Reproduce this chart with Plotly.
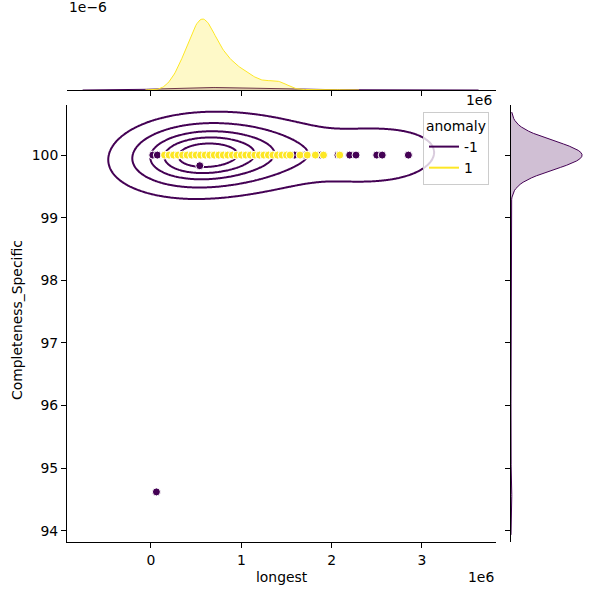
import numpy as np
import plotly.graph_objects as go

# ---------------- data ----------------
# anomaly = 1 : 'longest' values (in units of 1e6) and how many rows share each value;
# every one of these rows has Completeness_Specific = 100
yel_longest_m = [0.15, 0.20, 0.25, 0.30, 0.35, 0.40, 0.45, 0.50, 0.55, 0.60,
                 0.65, 0.70, 0.75, 0.80, 0.85, 0.90, 0.95, 1.00, 1.05, 1.10,
                 1.15, 1.20, 1.25, 1.30, 1.35, 1.40, 1.45, 1.50, 1.54, 1.65,
                 1.73, 1.82, 1.91, 2.09]
yel_count = [3, 8, 18, 30, 45, 62, 80, 98, 110, 108,
             95, 78, 64, 54, 47, 40, 34, 30, 27, 22,
             17, 14, 12, 12, 14, 15, 12, 7, 4, 1,
             1, 1, 1, 1]
yel_completeness = 100.0

# anomaly = -1 : 'longest' (1e6), Completeness_Specific, row count
pur_longest_m = [0.02, 0.07, 0.19, 0.30, 0.40, 0.50, 0.60, 0.70, 0.80, 0.90,
                 1.00, 1.10, 1.20, 1.30, 1.40, 1.59, 1.70, 1.88, 2.07, 2.20,
                 2.27, 2.50, 2.56, 2.85, 0.54, 0.06]
pur_completeness = [100, 100, 100, 100, 100, 100, 100, 100, 100, 100,
                    100, 100, 100, 100, 100, 100, 100, 100, 100, 100,
                    100, 100, 100, 100, 99.83, 94.62]
pur_count = [2, 2, 4, 6, 8, 9, 9, 8, 7, 6,
             5, 4, 3, 2, 2, 2, 1, 1, 1, 1,
             1, 2, 1, 2, 1, 1]

x_ticks = [0, 1, 2, 3]
y_ticks = [94, 95, 96, 97, 98, 99, 100]

PUR = "#440154"
YEL = "#fde725"
PUR_FILL = "rgba(68,1,84,0.25)"
YEL_FILL = "rgba(253,231,37,0.25)"
FONT = "DejaVu Sans"
FS = 13.9

# ---------------- KDE helpers ----------------
def kde1d(samples, cut=3, gridsize=200):
    s = np.asarray(samples, float)
    n = s.size
    bw = s.std(ddof=1) * n ** (-0.2)
    g = np.linspace(s.min() - cut * bw, s.max() + cut * bw, gridsize)
    d = np.exp(-0.5 * ((g[:, None] - s[None, :]) / bw) ** 2).sum(1) / (n * bw * np.sqrt(2 * np.pi))
    return g, d

yx = np.repeat(yel_longest_m, yel_count)
px_ = np.repeat(pur_longest_m, pur_count)
py_ = np.repeat(pur_completeness, pur_count).astype(float)
n_y, n_p = yx.size, px_.size
frac_y = n_y / (n_y + n_p)
frac_p = n_p / (n_y + n_p)

gyx, dyx = kde1d(yx)
gpx, dpx = kde1d(px_)
gpy, dpy = kde1d(py_)
dyx *= frac_y / 1e6
dpx *= frac_p / 1e6
dpy *= frac_p

# 2-D KDE for anomaly = -1
data = np.vstack([px_, py_])
cov = np.cov(data)
fac = n_p ** (-1.0 / 6)
kc = cov * fac ** 2
inv = np.linalg.inv(kc)
norm = 1.0 / (2 * np.pi * np.sqrt(np.linalg.det(kc)))
bwx, bwy = np.sqrt(np.diag(kc))
gx = np.linspace(px_.min() - 3 * bwx, px_.max() + 3 * bwx, 300)
gy = np.linspace(py_.min() - 3 * bwy, py_.max() + 3 * bwy, 400)
GX, GY = np.meshgrid(gx, gy)
Z = np.zeros_like(GX)
ux = np.array(pur_longest_m, float)
uy = np.array(pur_completeness, float)
uw = np.array(pur_count, float)
for xi, yi, wi in zip(ux, uy, uw):
    dx = GX - xi
    dy = GY - yi
    q = inv[0, 0] * dx * dx + 2 * inv[0, 1] * dx * dy + inv[1, 1] * dy * dy
    Z += wi * np.exp(-0.5 * q)
Z *= norm / uw.sum()

props = np.linspace(0.05, 1, 6)[:-1]
vals = np.sort(Z.ravel())[::-1]
cum = np.cumsum(vals) / vals.sum()
levels = [vals[min(np.searchsorted(cum, 1 - p), vals.size - 1)] for p in props]

# ---------------- figure ----------------
fig = go.Figure()

for L in levels:
    fig.add_trace(go.Contour(
        x=gx * 1e6, y=gy, z=Z, autocontour=False,
        contours=dict(start=L, end=L, size=1, coloring="lines"),
        colorscale=[[0, PUR], [1, PUR]], showscale=False,
        line=dict(width=2), hoverinfo="skip", showlegend=False,
        xaxis="x", yaxis="y"))

marker_kw = dict(size=8, line=dict(color="white", width=1))
fig.add_trace(go.Scatter(
    x=np.array(pur_longest_m) * 1e6, y=pur_completeness, mode="markers",
    marker=dict(color=PUR, **marker_kw), showlegend=False, xaxis="x", yaxis="y"))
fig.add_trace(go.Scatter(
    x=np.array(yel_longest_m) * 1e6, y=[yel_completeness] * len(yel_longest_m), mode="markers",
    marker=dict(color=YEL, **marker_kw), showlegend=False, xaxis="x", yaxis="y"))

# top marginal
fig.add_trace(go.Scatter(x=gpx * 1e6, y=dpx, mode="lines", fill="tozeroy", fillcolor=PUR_FILL,
                         line=dict(color=PUR, width=1), showlegend=False, xaxis="x2", yaxis="y2"))
fig.add_trace(go.Scatter(x=gyx * 1e6, y=dyx, mode="lines", fill="tozeroy", fillcolor=YEL_FILL,
                         line=dict(color=YEL, width=1), showlegend=False, xaxis="x2", yaxis="y2"))
# right marginal
fig.add_trace(go.Scatter(x=dpy, y=gpy, mode="lines", fill="tozerox", fillcolor=PUR_FILL,
                         line=dict(color=PUR, width=1), showlegend=False, xaxis="x3", yaxis="y3"))

# legend entries
fig.add_trace(go.Scatter(x=[None], y=[None], mode="lines", line=dict(color=PUR, width=2), name="-1"))
fig.add_trace(go.Scatter(x=[None], y=[None], mode="lines", line=dict(color=YEL, width=2), name="1"))

W = H = 600.0
xr = [-0.93e6, 3.82e6]
yr = [93.82, 100.80]
main_x = [67 / W, 496 / W]
main_y = [1 - 542 / H, 1 - 105 / H]
top_y = [1 - 90 / H, 1 - 15.5 / H]
right_x = [511 / W, 585.6 / W]

axis_common = dict(showline=True, linecolor="black", linewidth=1, ticks="outside",
                   ticklen=5, tickwidth=1, tickcolor="black", showgrid=False, zeroline=False,
                   tickfont=dict(family=FONT, size=FS, color="black"))


def ann(text, x, y, xanchor="center", angle=0):
    return dict(text=text, x=x / W, y=1 - y / H, xref="paper", yref="paper",
                xanchor=xanchor, yanchor="middle", showarrow=False, textangle=angle,
                font=dict(family=FONT, size=FS, color="black"))


fig.update_layout(
    width=600, height=600, margin=dict(l=0, r=0, t=0, b=0),
    paper_bgcolor="white", plot_bgcolor="white",
    font=dict(family=FONT, size=FS, color="black"),
    xaxis=dict(domain=main_x, range=xr, anchor="y", tickvals=[t * 1e6 for t in x_ticks],
               ticktext=[str(t) for t in x_ticks], **axis_common),
    yaxis=dict(domain=main_y, range=yr, anchor="x", tickvals=y_ticks,
               ticktext=[str(t) for t in y_ticks], **axis_common),
    xaxis2=dict(domain=main_x, range=xr, anchor="y2", tickvals=[t * 1e6 for t in x_ticks],
                showticklabels=False, **axis_common),
    yaxis2=dict(domain=top_y, range=[0, dyx.max() * 1.05], anchor="x2", visible=False),
    xaxis3=dict(domain=right_x, range=[0, dpy.max() * 1.05], anchor="y3", visible=False),
    yaxis3=dict(domain=main_y, range=yr, anchor="x3", tickvals=y_ticks,
                showticklabels=False, **axis_common),
    legend=dict(x=489 / W, y=1 - 112 / H, xanchor="right", yanchor="top",
                bgcolor="rgba(255,255,255,0.8)", bordercolor="#cccccc", borderwidth=1,
                title=dict(text="anomaly", font=dict(family=FONT, size=FS)),
                font=dict(family=FONT, size=FS), itemwidth=30, tracegroupgap=0),
    annotations=[
        ann("longest", 281.5, 577),
        ann("Completeness_Specific", 17, 320, angle=-90),
        ann("1e6", 496, 577, xanchor="right"),
        ann("1e6", 494, 100, xanchor="right"),
        ann("1e\u22126", 67, 7, xanchor="left"),
    ],
)

fig.write_html("out.html")
